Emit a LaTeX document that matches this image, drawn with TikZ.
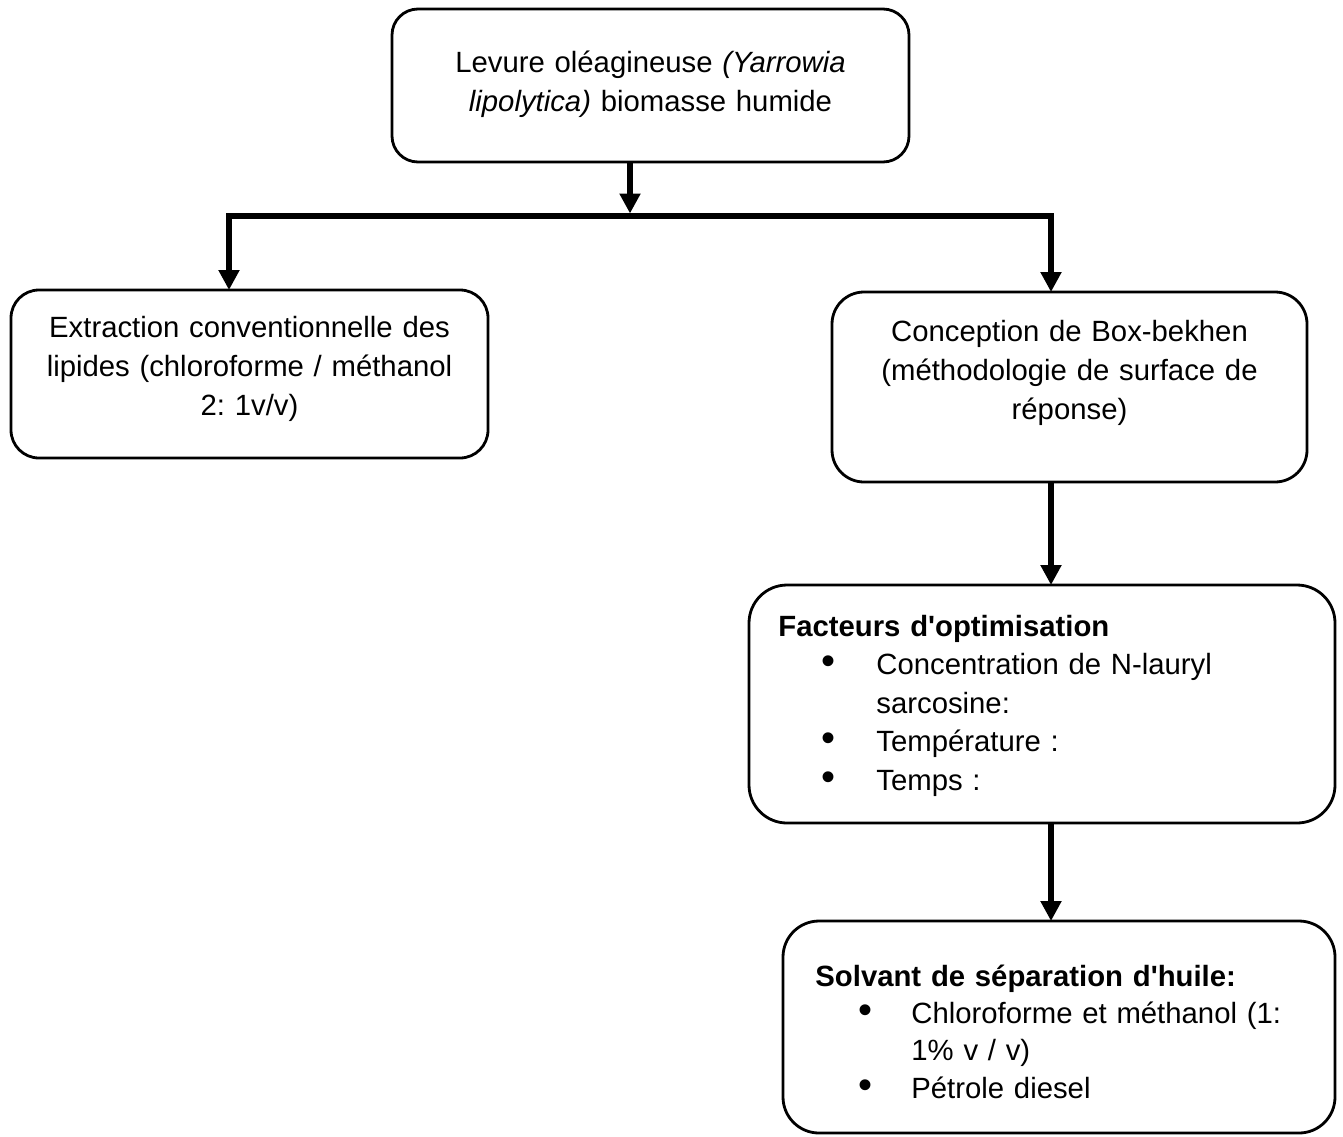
\documentclass[tikz,border=0pt]{standalone}
\usepackage{fontspec}
\setmainfont{Liberation Sans}
\usetikzlibrary{arrows.meta}
% strut that fixes the first baseline 11.5pt below the top of a text block
\newcommand\lnstrut{\rule{0pt}{11.5pt}}
% list bullet
\newcommand\dotmark{{\fontsize{20pt}{0pt}\selectfont •}}
\newcommand\ap{\textquotesingle}
\frenchspacing
\begin{document}
\begin{tikzpicture}[x=0.5pt,y=-0.5pt,
  box/.style={draw=black, line width=1.4pt, fill=white, outer sep=0pt, inner sep=0pt},
  tip/.style={Triangle[length=10pt,width=10pt]},
  link/.style={line width=2.75pt, line join=miter, -{Triangle[length=10pt,width=10pt]}},
  txt/.style={inner sep=0pt, font=\fontsize{14.65pt}{19.5pt}\selectfont}]

% canvas
\fill[white] (0,0) rectangle (1343,1136);
\useasboundingbox (0,0) rectangle (1343,1136);

% boxes
\node[box, rounded corners=13pt, minimum width=258.5pt, minimum height=76.5pt] (top) at (650.5,85.5) {};
\node[box, rounded corners=14pt, minimum width=238.5pt, minimum height=84pt] (left) at (249.5,374) {};
\node[box, rounded corners=16pt, minimum width=237.5pt, minimum height=95pt] (right) at (1069.5,387) {};
\node[box, rounded corners=19pt, minimum width=293pt, minimum height=119pt] (fact) at (1042,704) {};
\node[box, rounded corners=18pt, minimum width=276pt, minimum height=106pt] (solv) at (1059,1027) {};

% box texts
\node[txt, text width=260pt, align=center, anchor=north] (toptext) at (650.5,49)
  {\lnstrut Levure oléagineuse \textit{(Yarrowia}\\\lnstrut\textit{lipolytica)} biomasse humide};
\node[txt, text width=235pt, align=center, anchor=north] (lefttext) at (249.5,314)
  {\lnstrut Extraction conventionnelle des\\\lnstrut lipides (chloroforme / méthanol\\\lnstrut 2: 1v/v)};
\node[txt, text width=235pt, align=center, anchor=north] (righttext) at (1069.5,318)
  {\lnstrut Conception de Box-bekhen\\\lnstrut (méthodologie de surface de\\\lnstrut réponse)};
\node[txt, font=\fontsize{14.65pt}{19.25pt}\selectfont, text width=270pt, align=left, anchor=north west] (facttext) at (778,613)
  {\lnstrut\textbf{Facteurs d\ap optimisation}\\
   \hspace*{25pt}\makebox[0pt]{\dotmark}\hspace*{24pt}Concentration de N-lauryl\\
   \hspace*{49pt}sarcosine:\\
   \hspace*{25pt}\makebox[0pt]{\dotmark}\hspace*{24pt}Température :\\
   \hspace*{25pt}\makebox[0pt]{\dotmark}\hspace*{24pt}Temps :};
\node[txt, font=\fontsize{14.65pt}{18.6pt}\selectfont, text width=260pt, align=left, anchor=north west] (solvtext) at (815,963)
  {\lnstrut\textbf{Solvant de séparation d\ap huile:}\\
   \hspace*{25pt}\makebox[0pt]{\dotmark}\hspace*{23pt}Chloroforme et méthanol (1:\\
   \hspace*{48pt}1\% v / v)\\
   \hspace*{25pt}\makebox[0pt]{\dotmark}\hspace*{23pt}Pétrole diesel};

% junction points of the splitting bar
\coordinate (tj) at (630,213.5);
\coordinate (lj) at (229,216);
\coordinate (rj) at (1051,216);

% connectors
\draw[link] (top.south -| tj) -- (tj);
\draw[link, {Triangle[length=10pt,width=10pt]}-{Triangle[length=10pt,width=10pt]}]
  (left.north -| lj) -- (lj) -- (rj) -- (right.north -| rj);
\draw[link] (right.south -| rj) -- (fact.north -| rj);
\draw[link] (fact.south -| rj) -- (solv.north -| rj);
\end{tikzpicture}
\end{document}
